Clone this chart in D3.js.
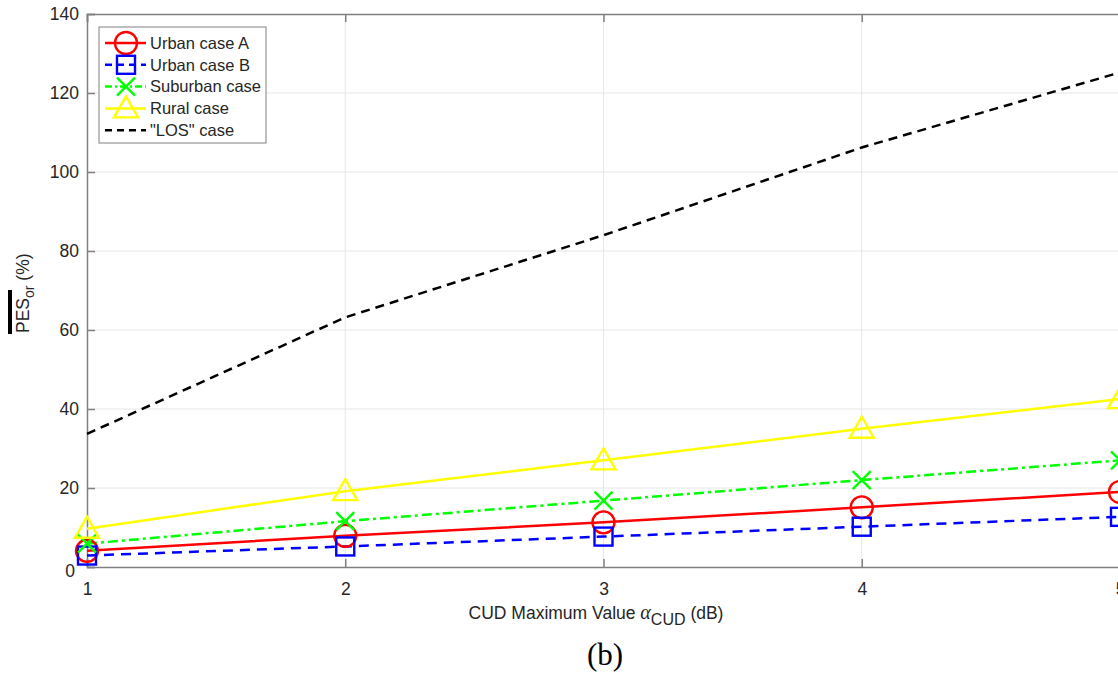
<!DOCTYPE html>
<html>
<head>
<meta charset="utf-8">
<script src="https://cdn.jsdelivr.net/npm/d3@7"></script>
<style>
  body { margin: 0; background: #fff; }
  svg { display: block; font-family: Arial, 'Liberation Sans', sans-serif; }
</style>
</head>
<body>
<svg id="chart" width="1118" height="675"></svg>
<script>
const xValues = [1, 2, 3, 4, 5];
const urbanA = [4.1, 7.9, 11.3, 15.1, 19.0];
const urbanB = [2.9, 5.2, 7.7, 10.2, 12.7];
const suburban = [5.9, 11.6, 16.8, 22.0, 27.0];
const rural = [9.7, 19.2, 27.0, 35.0, 42.5];
const los = [33.7, 63.2, 84.0, 106.2, 125.2];
const xTicks = [1, 2, 3, 4, 5];
const yTicks = [0, 20, 40, 60, 80, 100, 120, 140];

const series = [
  { name: 'Urban case A', values: urbanA, color: '#ff0000', dash: null, marker: 'circle' },
  { name: 'Urban case B', values: urbanB, color: '#0000ff', dash: '10,7', marker: 'square' },
  { name: 'Suburban case', values: suburban, color: '#00ff00', dash: '10,4,3,4', marker: 'x' },
  { name: 'Rural case', values: rural, color: '#ffff00', dash: null, marker: 'triangle' },
  { name: '"LOS" case', values: los, color: '#000000', dash: '9,6', marker: null }
];

const svg = d3.select('#chart');
const plotLeft = 87, plotRight = 1120, plotTop = 14, plotBottom = 567;
const axisColor = '#808080';
const textColor = '#262626';

const x = d3.scaleLinear().domain([1, 5]).range([plotLeft, plotRight]);
const y = d3.scaleLinear().domain([0, 140]).range([plotBottom, plotTop]);

// grid
svg.append('g').selectAll('line').data(xTicks.slice(1)).join('line')
  .attr('x1', d => x(d)).attr('x2', d => x(d)).attr('y1', plotTop).attr('y2', plotBottom)
  .attr('stroke', '#e6e6e6').attr('stroke-width', 1);
svg.append('g').selectAll('line').data(yTicks.slice(1, -1)).join('line')
  .attr('x1', plotLeft).attr('x2', plotRight).attr('y1', d => y(d)).attr('y2', d => y(d))
  .attr('stroke', '#e6e6e6').attr('stroke-width', 1);

// axes (ticks inside)
const xAxis = svg.append('g').attr('transform', `translate(0,${plotBottom})`)
  .call(d3.axisBottom(x).tickValues(xTicks).tickSize(-8).tickPadding(16).tickFormat(d3.format('d')));
const yAxis = svg.append('g').attr('transform', `translate(${plotLeft},0)`)
  .call(d3.axisLeft(y).tickValues(yTicks).tickSize(-8).tickPadding(8).tickFormat(d3.format('d')));
const xTop = svg.append('g').attr('transform', `translate(0,${plotTop})`)
  .call(d3.axisTop(x).tickValues(xTicks).tickSize(-8).tickFormat(''));
[xAxis, yAxis, xTop].forEach(g => {
  g.select('.domain').attr('stroke', axisColor).attr('stroke-width', 1.5);
  g.selectAll('.tick line').attr('stroke', axisColor).attr('stroke-width', 1.5);
  g.selectAll('.tick text').attr('fill', textColor).attr('font-size', 17.5)
    .attr('font-family', 'Arial, Liberation Sans, sans-serif');
});
yAxis.selectAll('.tick').filter(d => d === 0).select('text').attr('dx', -4).attr('dy', '0.55em');

// lines
const line = d3.line().x((d, i) => x(xValues[i])).y(d => y(d));
svg.append('g').selectAll('path').data(series).join('path')
  .attr('d', d => line(d.values))
  .attr('fill', 'none')
  .attr('stroke', d => d.color)
  .attr('stroke-width', 2.5)
  .attr('stroke-dasharray', d => d.dash);

function drawMarker(g, type, color) {
  if (type === 'circle') {
    g.append('circle').attr('r', 11);
  } else if (type === 'square') {
    g.append('rect').attr('x', -9).attr('y', -9).attr('width', 18).attr('height', 18);
  } else if (type === 'x') {
    g.append('path').attr('d', 'M-9,-9L9,9M-9,9L9,-9');
  } else if (type === 'triangle') {
    g.append('path').attr('d', 'M0,-12L12,9L-12,9Z');
  }
  g.selectAll('*').attr('fill', 'none').attr('stroke', color).attr('stroke-width', 2.4);
}

series.filter(s => s.marker).forEach(s => {
  s.values.forEach((v, i) => {
    const g = svg.append('g').attr('transform', `translate(${x(xValues[i])},${y(v)})`);
    drawMarker(g, s.marker, s.color);
  });
});

// legend
const legend = svg.append('g').attr('transform', 'translate(99,27)');
legend.append('rect').attr('width', 167).attr('height', 116)
  .attr('fill', '#fff').attr('stroke', axisColor).attr('stroke-width', 1);
series.forEach((s, i) => {
  const ly = 16 + i * 21.8;
  legend.append('line').attr('x1', 6).attr('x2', 47).attr('y1', ly).attr('y2', ly)
    .attr('stroke', s.color).attr('stroke-width', 2.5)
    .attr('stroke-dasharray', s.dash ? (s.marker === 'x' ? '7,3,2,3' : '7,5') : null);
  if (s.marker) {
    const g = legend.append('g').attr('transform', `translate(27,${ly})`);
    drawMarker(g, s.marker, s.color);
  }
  legend.append('text').attr('x', 51).attr('y', ly).attr('dy', '0.35em')
    .attr('font-size', 16.5).attr('fill', textColor).text(s.name);
});

// axis labels
const xl = svg.append('text').attr('x', 596).attr('y', 619).attr('text-anchor', 'middle')
  .attr('font-size', 17.5).attr('fill', textColor);
xl.append('tspan').text('CUD Maximum Value ');
xl.append('tspan').attr('font-family', 'Times New Roman, Liberation Serif, serif')
  .attr('font-style', 'italic').attr('font-size', 20).text('α');
xl.append('tspan').attr('font-size', 16).attr('dy', 6).text('CUD');
xl.append('tspan').attr('dy', -6).text(' (dB)');

const yl = svg.append('text').attr('transform', 'translate(29,333) rotate(-90)')
  .attr('font-size', 17.5).attr('fill', textColor);
yl.append('tspan').text('PES');
yl.append('tspan').attr('font-size', 14).attr('dy', 5).text('or');
yl.append('tspan').attr('dy', -5).text(' (%)');
svg.append('rect').attr('x', 8).attr('y', 290).attr('width', 4).attr('height', 44).attr('fill', '#000');

svg.append('text').attr('x', 605).attr('y', 665).attr('text-anchor', 'middle')
  .attr('font-family', 'Times New Roman, Liberation Serif, serif')
  .attr('font-size', 31).attr('fill', '#000').text('(b)');
</script>
</body>
</html>
